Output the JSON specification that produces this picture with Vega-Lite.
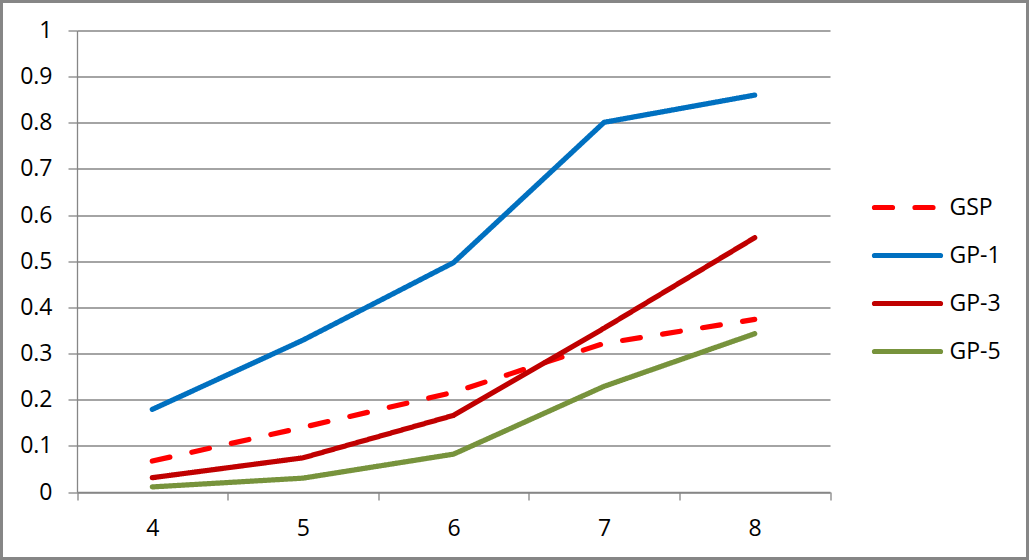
{
  "$schema": "https://vega.github.io/schema/vega-lite/v6.json",
  "width": 1026,
  "height": 557,
  "autosize": {"type": "none"},
  "padding": 1.5,
  "background": "white",
  "config": {"view": {"stroke": "#868686", "strokeWidth": 3}, "font": "Open Sans"},
  "data": {"values": [
    {"x": 4, "series": "GSP", "value": 0.067},
    {"x": 5, "series": "GSP", "value": 0.14},
    {"x": 6, "series": "GSP", "value": 0.216},
    {"x": 7, "series": "GSP", "value": 0.322},
    {"x": 8, "series": "GSP", "value": 0.374},
    {"x": 4, "series": "GP-1", "value": 0.179},
    {"x": 5, "series": "GP-1", "value": 0.329},
    {"x": 6, "series": "GP-1", "value": 0.497},
    {"x": 7, "series": "GP-1", "value": 0.801},
    {"x": 8, "series": "GP-1", "value": 0.86},
    {"x": 4, "series": "GP-3", "value": 0.031},
    {"x": 5, "series": "GP-3", "value": 0.074},
    {"x": 6, "series": "GP-3", "value": 0.166},
    {"x": 7, "series": "GP-3", "value": 0.355},
    {"x": 8, "series": "GP-3", "value": 0.551},
    {"x": 4, "series": "GP-5", "value": 0.011},
    {"x": 5, "series": "GP-5", "value": 0.03},
    {"x": 6, "series": "GP-5", "value": 0.082},
    {"x": 7, "series": "GP-5", "value": 0.229},
    {"x": 8, "series": "GP-5", "value": 0.343}
  ]},
  "mark": {"type": "line", "strokeWidth": 5.2, "strokeCap": "round", "strokeJoin": "round"},
  "encoding": {
    "x": {
      "field": "x", "type": "quantitative",
      "scale": {"domain": [3.5, 8.5], "range": [75.5, 828.5], "nice": false, "zero": false},
      "axis": {
        "title": null,
        "values": [3.5, 4, 4.5, 5, 5.5, 6, 6.5, 7, 7.5, 8, 8.5],
        "offset": -66.5,
        "grid": false,
        "domainColor": "#868686", "domainWidth": 1.3,
        "tickColor": "#868686", "tickWidth": 1.3, "tickSize": 8,
        "tickOpacity": {"condition": {"test": "datum.value % 1 === 0", "value": 0}, "value": 1},
        "labelExpr": "datum.value % 1 === 0 ? format(datum.value, 'd') : ''",
        "labelFontSize": 23, "labelColor": "#000000", "labelPadding": 17,
        "labelFlush": false, "labelOverlap": false
      }
    },
    "y": {
      "field": "value", "type": "quantitative",
      "scale": {"domain": [0, 1], "range": [490.5, 29], "nice": false},
      "axis": {
        "title": null,
        "values": [0, 0.1, 0.2, 0.3, 0.4, 0.5, 0.6, 0.7, 0.8, 0.9, 1],
        "format": "~g",
        "offset": -75.5,
        "grid": true, "gridColor": "#868686", "gridWidth": 1.3,
        "domainColor": "#868686", "domainWidth": 1.3,
        "tickColor": "#868686", "tickWidth": 1.3, "tickSize": 9,
        "labelFontSize": 23, "labelColor": "#000000", "labelPadding": 16,
        "labelFlush": false, "labelOverlap": false
      }
    },
    "color": {
      "field": "series", "type": "nominal",
      "scale": {"domain": ["GSP", "GP-1", "GP-3", "GP-5"], "range": ["#FF0000", "#0070C0", "#C00000", "#77933C"]},
      "legend": {
        "title": null, "orient": "none", "legendX": 870, "legendY": 170,
        "direction": "vertical", "padding": 0,
        "symbolType": "stroke", "symbolSize": 4356, "symbolStrokeWidth": 5.2,
        "labelFontSize": 23, "labelColor": "#000000", "labelOffset": 6,
        "rowPadding": -21.5,
        "encode": {"symbols": {"update": {"strokeCap": {"value": "round"}}}}
      }
    },
    "strokeDash": {
      "field": "series", "type": "nominal",
      "scale": {"domain": ["GSP", "GP-1", "GP-3", "GP-5"], "range": [[18, 22.5], [1, 0], [1, 0], [1, 0]]}
    }
  }
}
